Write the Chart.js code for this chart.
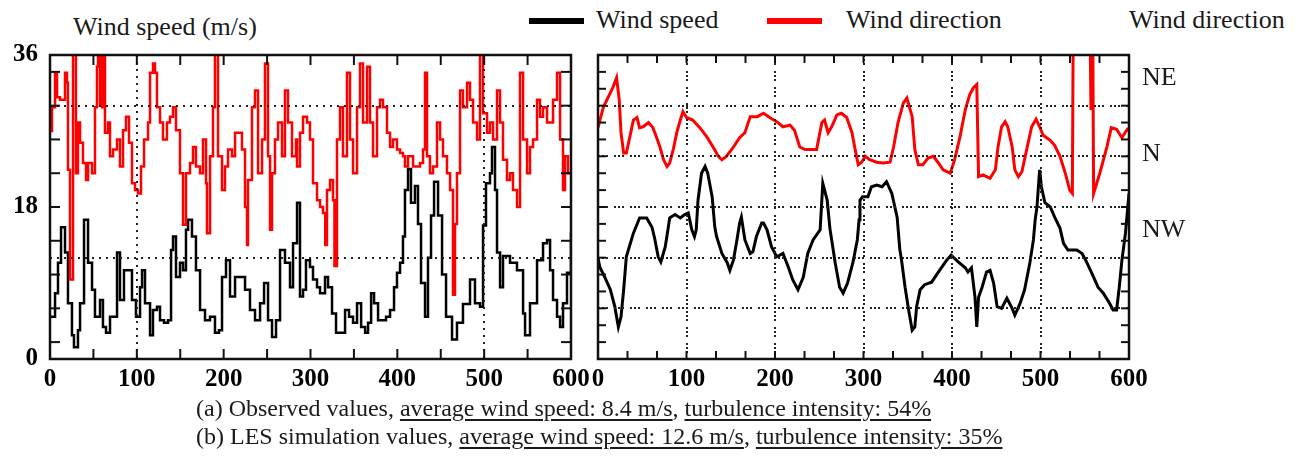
<!DOCTYPE html>
<html>
<head>
<meta charset="utf-8">
<script src="https://cdn.jsdelivr.net/npm/chart.js@4.4.0/dist/chart.umd.min.js"></script>
<style>
body { margin: 0; background: #fff; width: 1308px; height: 462px; overflow: hidden; position: relative;
       font-family: "Liberation Serif", serif; color: #1a1a1a; }
.t { position: absolute; font-size: 26px; line-height: 26px; white-space: nowrap; }
.key { position: absolute; top: 18px; width: 55px; height: 6px; }
canvas { position: absolute; }
.cap { position: absolute; left: 196px; font-size: 24px; line-height: 24px; white-space: nowrap; }
.cap u { text-decoration-thickness: 2px; text-underline-offset: 3px; }
</style>
</head>
<body>
<div class="t" style="left:73px;top:14px">Wind speed (m/s)</div>
<div class="key" style="left:529px;background:#000"></div>
<div class="t" style="left:596px;top:7px">Wind speed</div>
<div class="key" style="left:767px;background:#f00"></div>
<div class="t" style="left:846px;top:7px">Wind direction</div>
<div class="t" style="left:1129px;top:7px">Wind direction</div>

<canvas id="obs" width="598" height="375" style="left:0;top:25px"></canvas>
<canvas id="les" width="724" height="375" style="left:584px;top:25px"></canvas>

<div class="cap" style="top:396px">(a) Observed values, <u>average wind speed: 8.4 m/s</u>, <u>turbulence intensity: 54%</u></div>
<div class="cap" style="top:424px">(b) LES simulation values, <u>average wind speed: 12.6 m/s</u>, <u>turbulence intensity: 35%</u></div>

<script>
// [time (s), value] pairs
// (a) observed
var obsSpeed = [[0,5],[5.8,7.8],[9.2,11.4],[12.7,15.6],[17.3,12.6],[20.7,6.6],[25.3,2.8],[27.6,1.4],[32.2,3.4],[34.6,6.6],
  [39.2,16.5],[43.8,11.4],[48.4,8.2],[51.8,5],[57.6,7],[61,3.8],[64.5,3.1],[69.1,5],[73.7,5],[77.2,12.6],
  [80.6,7],[85.2,10.5],[89.8,10.5],[94.4,7],[99,5],[103.7,8.5],[106,10.5],[109.4,6.6],[115.2,2.8],[118.6,5.8],
  [123.2,6.2],[126.7,4.6],[131.3,4.3],[135.9,4.6],[139.4,12.9],[141.7,14.5],[145.1,9.7],[149.7,11.4],[153.2,10.5],[156.6,15.3],
  [159,16.5],[163.5,14.5],[168.1,10.5],[172.8,5.8],[178.5,4.6],[184.3,5],[190,3.1],[194.6,3.4],[198.1,9.7],[202.7,11.7],
  [207.3,7.4],[213.1,9.7],[218.8,9.7],[224.6,8.2],[230.3,5.8],[236.1,4.6],[241.9,6.6],[246.5,9],[251.1,4.6],[255.7,2.6],
  [260.3,4.6],[264.9,12.9],[270.6,11.4],[276.4,8.5],[279.9,13.7],[284.5,18.5],[287.9,7.4],[291.4,8.2],[294.8,11.7],[299.4,10.9],
  [302.9,9.4],[307.5,8.5],[311,7.8],[316.7,9.7],[320.2,8.5],[324.8,5.4],[329.4,3.1],[335.2,3.1],[339.8,5.8],[344.4,5],
  [349,4.3],[353.6,6.6],[358.3,3.8],[362.9,3.1],[366.3,4.3],[369.8,7.8],[373.2,6.6],[377.8,4.6],[382.4,4.6],[387,5],
  [391.6,5.8],[396.2,8.5],[399.6,10.2],[403.1,11.4],[406.5,14.5],[408.8,20],[412.3,22.5],[415.7,18.5],[420.3,20.5],[423.8,16],
  [427.3,9],[431.9,5],[435.3,12],[438.8,17],[442.3,21],[446.9,17],[451.5,10],[456.1,5],[463,2.3],[468.7,4.3],
  [475.6,6.5],[483.7,9.4],[489.4,6.6],[495.2,6.2],[498.7,15.8],[502.1,20.8],[506.7,22],[509,25.1],[512.5,20],[514.8,12.6],
  [518.3,8.5],[521.7,12.2],[529.8,11.4],[537.8,10.5],[544.8,5.4],[547.1,2.8],[552.8,6.6],[560.9,11.7],[567.8,13.7],[572.4,14.1],
  [575.9,10.5],[579.3,7],[583.9,5],[587.4,3.8],[590.8,6.6],[595.4,10.2],[600,15]];

var obsDir = [[0,27],[2.3,29.8],[5.8,33.9],[8.1,31],[11.5,30.7],[15,30.7],[17.3,33.9],[19.6,32.7],[20.7,22.4],[23,9.4],
  [26.5,37],[29.9,22],[32.2,28],[34.6,25.6],[38,23.2],[41.5,21.2],[43.8,23.2],[48.4,22],[51.8,29.8],[54.1,34.6],
  [55.3,37],[57.6,30],[58.7,37],[59.9,29.8],[61,37],[63.3,26.8],[66.8,28],[69.1,24],[72.6,24.8],[77.2,26],
  [80.6,22.8],[84.1,27.1],[87.5,28.7],[91,25.6],[94.4,20.8],[97.9,20],[101.3,19.6],[104.8,22.8],[108.3,26],[112.9,28],
  [115.2,33.9],[118.6,35],[120.9,33.9],[123.2,29.8],[126.7,28],[130.1,26],[134.7,28],[138.2,28.7],[141.7,29.8],[145.1,27.1],
  [149.7,22],[153.2,15.9],[156.6,22],[161.2,23.2],[164.7,25.1],[168.1,22.8],[172.8,22],[176.2,26],[179.7,20.8],[180.8,14.9],
  [184.3,24],[187.7,29.8],[190,37],[193.5,24],[198.1,20],[201.5,22.8],[205,24.8],[209.6,24],[213.1,26.8],[216.5,26.8],
  [221.1,24.8],[224.6,18],[226.9,13.5],[228,21.2],[232.6,29.8],[236.1,31.8],[239.6,22],[244.2,26],[247.6,35],[251.1,24],
  [253.4,15.3],[255.7,22],[259.1,26],[262.6,28],[267.2,24],[270.6,31.8],[274.1,28],[278.7,24],[283.3,26],[284.5,22.8],
  [287.9,26.8],[291.4,28.7],[296,28],[299.4,26],[302.9,20.8],[307.5,18.8],[311,18],[314.4,17.3],[317,13.5],[319,20],
  [322.5,21.2],[325.9,18.8],[327.6,11],[330.5,26],[334,29.8],[337.4,24],[342,33.9],[345.5,26],[349,22],[353.6,29.8],
  [357,35],[360.5,28],[365.1,34.6],[368.5,28],[372,24],[376.6,29.8],[380,30.7],[383.5,29.8],[388.1,26.8],[391.6,25.1],
  [395,26],[399.6,24.8],[403.1,24.4],[406.5,24],[408.8,22.8],[412.3,24],[414.6,24],[418.1,22.8],[422.7,22.8],[426.1,23.2],
  [429.6,24.8],[431.9,33.9],[434.2,24],[437.6,22],[441.1,22.8],[445.7,28],[449.2,26],[452.6,24],[457.2,22],[460.7,20],
  [464.1,7.6],[466.4,16],[468.7,22],[472.2,31.8],[475.6,29.8],[480.3,32.7],[483.7,30.7],[487.2,28],[491.8,26],[495.2,37],
  [498.7,29.1],[503.3,26.8],[506.7,28],[510.2,26],[514.8,31.8],[518.3,28],[521.7,23.6],[526.3,21.2],[529.8,22],[533.2,20],
  [537.8,18],[541.3,33.9],[544.8,26],[549.4,22],[552.8,25.1],[556.3,26],[560.9,30.7],[564.3,28.7],[567.8,29.8],[572.4,28],
  [575.9,28],[579.3,30.7],[583.9,33.9],[587.4,26],[590.8,20],[593.1,24],[596.6,22],[600,22]];

// (b) LES simulation
var lesSpeed = [[0,12],[2,10.9],[8,9.6],[14,8.2],[19,6.2],[23,3.8],[26,5],[29,8.2],[32,12.1],[36,13.5],
  [40,14.9],[47,16.7],[55,16.7],[61,15.6],[64,14.3],[68,12.1],[71,11.5],[76,13.3],[79,15.3],[81,16.7],
  [87,17.1],[93,16.7],[98,17.1],[102,17.3],[106,15.3],[109,14.5],[111,15.3],[113,18.8],[117,22],[121,22.8],
  [124,22],[129,19.2],[132,15.6],[134,14.5],[140,12.5],[146,11.4],[149,10.5],[153,11.7],[157,14.1],[160,16.1],
  [162,16.8],[166,14.1],[172,12.5],[175,12.7],[179,14.5],[185,16.1],[187,16.1],[191,15.3],[196,13.3],[202,12.1],
  [209,12.5],[215,10.9],[220,9.4],[226,8.2],[232,9.7],[237,12.5],[243,14.1],[251,15.3],[254,20.8],[259,18.8],
  [262,15.5],[268,11.4],[273,8.5],[277,7.8],[282,9],[288,11.4],[293,14.1],[295,16.5],[296,18.8],[299,19.2],
  [305,19.2],[309,20.4],[315,20.6],[321,20.4],[326,21],[332,19.6],[338,16.8],[341,13],[343,11.7],[347,8.5],
  [351,5.8],[355,3.4],[358,3.8],[360,6.2],[364,8.2],[369,8.8],[377,9.1],[384,10.2],[394,11.7],[399,12.3],
  [407,11.5],[415,10.8],[418,10.3],[422,10.8],[426,7.3],[428,3.8],[430,7.3],[434,8.5],[439,10.3],[443,10.5],
  [447,9],[451,6.2],[456,6],[462,7.2],[468,6],[471,5.2],[477,6.6],[482,8.2],[488,11.4],[492,14.1],
  [494,16.5],[496,18],[499,22.4],[501,20.4],[505,18.5],[511,18],[516,16.8],[522,15.5],[526,13.7],[531,12.9],
  [541,12.9],[547,12.5],[552,11.5],[560,9.7],[565,8.5],[571,7.8],[578,6.6],[582,5.8],[586,5.8],[589,8.5],
  [592,11.7],[596,14.9],[600,19.6]];

var lesDir = [[0,27.4],[6,29.8],[11,30.9],[17,32.2],[21,33.3],[24,30.7],[26,26.8],[29,24.4],[32,24.4],[36,26.3],
  [40,28.3],[44,28.6],[47,27.4],[51,27.5],[57,28],[62,27.4],[66,26.3],[70,25.1],[74,23.6],[78,22.8],
  [81,23.2],[85,24.8],[89,26.8],[93,28.3],[96,29.3],[100,28.6],[107,28.3],[115,27.4],[123,26.3],[130,25.1],
  [136,24],[140,23.6],[145,24],[153,25.1],[160,26.2],[166,26.8],[172,28.7],[180,28.7],[187,29.1],[194,28.6],
  [202,28.1],[209,27.5],[217,27.7],[222,27.1],[228,25.1],[234,24.8],[241,24.8],[247,24.8],[253,28],[256,28.3],
  [260,26.8],[264,27.5],[270,28.9],[275,29.1],[281,28.6],[287,26.8],[290,25.1],[294,23],[298,23.3],[302,24],
  [307,23.6],[315,23.3],[322,23.2],[330,23.3],[334,25.1],[339,28],[345,30.3],[349,30.9],[355,28.7],[358,24.8],
  [362,23],[367,23],[373,23.8],[379,24],[384,23.3],[390,22.4],[398,22],[403,23.6],[409,26.3],[415,29.5],
  [420,31.3],[424,32.1],[428,32.5],[429,27.1],[430,21.6],[435,21.8],[443,21.4],[449,22.4],[452,25.1],[456,27.5],
  [460,28.1],[463,27.5],[468,25.1],[471,22.4],[475,21.6],[479,22.2],[485,25.1],[490,27.5],[495,28.4],[499,27.5],
  [503,26.5],[511,25.9],[516,25.3],[522,24],[528,22],[533,20],[536,19.6],[537,40],[556,40],[557,29.5],
  [558,40],[559,40],[560,19.6],[567,22],[575,25.1],[580,27.4],[586,27.2],[592,26.2],[598,27.2],[600,27]];

var speedTicks = [0, 18, 36];
var dirLabels = ['NW', 'N', 'NE'];
var dirValues = [15.3, 24.2, 33.3];

var tickFont = { family: 'Liberation Serif', size: 25, weight: 'bold' };

function pts(arr) {
	return arr.map(function (p) { return { x: p[0], y: p[1] }; });
}

function every(step, from, to) {
	var out = [];
	for (var v = from; v <= to + 1e-6; v += step) out.push(v);
	return out;
}

// dotted grid, inward tick marks and the box around the plot
function frame(cfg) {
	return {
		id: 'frame',
		afterDatasetsDraw: function (chart) {
			var ctx = chart.ctx, a = chart.chartArea;
			var sx = chart.scales.x, sy = chart.scales.y;
			function seg(x1, y1, x2, y2) {
				ctx.beginPath(); ctx.moveTo(x1, y1); ctx.lineTo(x2, y2); ctx.stroke();
			}
			ctx.save();
			ctx.strokeStyle = '#222';
			ctx.lineWidth = 2;
			ctx.setLineDash(cfg.dash);
			cfg.gridX.forEach(function (v) { var p = Math.round(sx.getPixelForValue(v)); seg(p, a.top, p, a.bottom); });
			cfg.gridY.forEach(function (v) { var p = Math.round(sy.getPixelForValue(v)); seg(a.left, p, a.right, p); });
			ctx.setLineDash([]);
			ctx.strokeStyle = '#111';
			cfg.tickX.forEach(function (v) {
				var p = sx.getPixelForValue(v);
				seg(p, a.bottom, p, a.bottom - cfg.len);
				seg(p, a.top, p, a.top + cfg.len);
			});
			cfg.tickY.forEach(function (v) {
				var p = sy.getPixelForValue(v);
				seg(a.left, p, a.left + cfg.len, p);
				seg(a.right, p, a.right - cfg.len, p);
			});
			ctx.lineWidth = 2.5;
			ctx.strokeRect(a.left, a.top, a.right - a.left, a.bottom - a.top);
			ctx.restore();
		}
	};
}

function xScale() {
	return {
		type: 'linear', min: 0, max: 600,
		grid: { display: false, drawTicks: false }, border: { display: false },
		ticks: { stepSize: 100, padding: 6, font: tickFont, color: '#000', maxRotation: 0 },
		afterFit: function (s) { s.height = 41; }
	};
}

var baseOpts = {
	responsive: false, animation: false, devicePixelRatio: 1,
	plugins: { legend: { display: false }, tooltip: { enabled: false } }
};

new Chart(document.getElementById('obs'), {
	type: 'line',
	data: {
		datasets: [
			{ data: pts(obsDir), borderColor: '#ff0000', borderWidth: 2.5, stepped: true, pointRadius: 0, clip: 0 },
			{ data: pts(obsSpeed), borderColor: '#000000', borderWidth: 2.5, stepped: true, pointRadius: 0, clip: 0 }
		]
	},
	options: Object.assign({}, baseOpts, {
		layout: { padding: { top: 30, right: 27 } },
		scales: {
			x: xScale(),
			y: {
				min: 0, max: 36,
				afterBuildTicks: function (s) { s.ticks = speedTicks.map(function (v) { return { value: v }; }); },
				grid: { display: false, drawTicks: false }, border: { display: false },
				ticks: { padding: 12, font: tickFont, color: '#000' },
				afterFit: function (s) { s.width = 50; }
			}
		}
	}),
	plugins: [frame({ dash: [2, 5], gridX: [100, 500], gridY: [12, 30],
		tickX: every(50, 50, 550), tickY: every(4, 2, 34), len: 10 })]
});

new Chart(document.getElementById('les'), {
	type: 'line',
	data: {
		datasets: [
			{ data: pts(lesDir), borderColor: '#ff0000', borderWidth: 3, pointRadius: 0, clip: 0 },
			{ data: pts(lesSpeed), borderColor: '#000000', borderWidth: 3, pointRadius: 0, clip: 0 }
		]
	},
	options: Object.assign({}, baseOpts, {
		layout: { padding: { top: 30, left: 14 } },
		scales: {
			x: xScale(),
			y: { display: false, min: 0, max: 36 },
			yDir: {
				position: 'right', min: 0, max: 36,
				afterBuildTicks: function (s) { s.ticks = dirValues.map(function (v) { return { value: v }; }); },
				grid: { display: false, drawTicks: false }, border: { display: false },
				ticks: {
					padding: 13, color: '#1a1a1a',
					font: { family: 'Liberation Serif', size: 26 },
					callback: function (v, i) { return dirLabels[i]; }
				},
				afterFit: function (s) { s.width = 179; }
			}
		}
	}),
	plugins: [frame({ dash: [2, 2, 2, 2, 2, 6], gridX: [100, 200, 300, 400, 500], gridY: [6, 12, 18, 24, 30],
		tickX: every(100 / 3, 100 / 3, 580), tickY: every(2, 2, 34), len: 8 })]
});
</script>
</body>
</html>
